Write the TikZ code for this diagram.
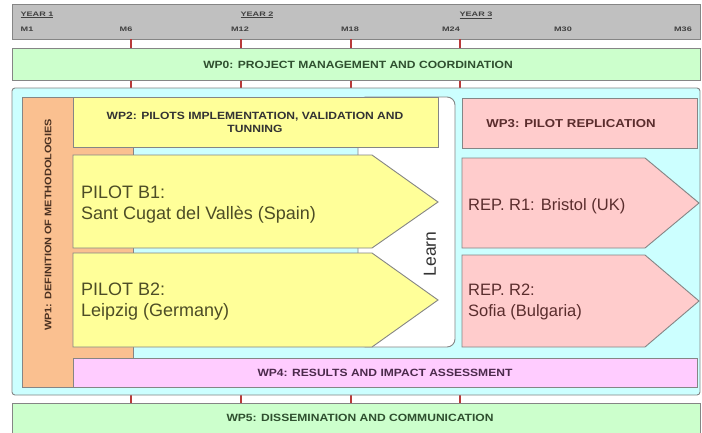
\documentclass[tikz,border=0pt]{standalone}
\usepackage{fontspec}
\setmainfont{Liberation Sans}
\newfontfamily\hdfont[FakeStretch=1.15]{Liberation Sans}
\newfontfamily\tinyfont[FakeStretch=1.4]{Liberation Sans}
\definecolor{barGray}{HTML}{C0C0C0}
\definecolor{edgeGray}{HTML}{858585}
\definecolor{wpGreen}{HTML}{CCFFCC}
\definecolor{wpCyan}{HTML}{CCFFFF}
\definecolor{wpOrange}{HTML}{FAC090}
\definecolor{wpYellow}{HTML}{FFFF99}
\definecolor{wpPink}{HTML}{FFCCCC}
\definecolor{wpMagenta}{HTML}{FFCCFF}
\definecolor{tickRed}{HTML}{B83A3A}
\definecolor{txGreen}{HTML}{2F4F2F}
\definecolor{txDark}{HTML}{333333}
\definecolor{txRed}{HTML}{5A2D2D}
\definecolor{txPurple}{HTML}{4B2A4B}
\definecolor{txOlive}{HTML}{4D4D26}
\definecolor{txBrown}{HTML}{4A3020}
\begin{document}
\begin{tikzpicture}[x=1pt,y=-1pt,
  box/.style={draw=edgeGray, line width=0.9pt},
  tick/.style={draw=tickRed, line width=2pt},
  tinylbl/.style={font=\tinyfont\bfseries\fontsize{6.5}{7}\selectfont, text=black!75, inner sep=0pt},
  hd/.style={font=\hdfont\bfseries\fontsize{10.5}{13}\selectfont, inner sep=0pt, align=center},
  bigtxt/.style={font=\fontsize{18}{21}\selectfont, inner sep=0pt, align=left, anchor=west},
  reptxt/.style={font=\fontsize{16.5}{21}\selectfont, inner sep=0pt, align=left, anchor=west}]
\path[use as bounding box, fill=white] (0,0) rectangle (702,432);

% timeline bar
\draw[box, fill=barGray] (12,4) rectangle (700,39);
\node[tinylbl] (y1) at (37,15) {\underline{YEAR 1}};
\node[tinylbl] (y2) at (257,15) {\underline{YEAR 2}};
\node[tinylbl] (y3) at (476,15) {\underline{YEAR 3}};
\node[tinylbl] (m1) at (27,29) {M1};
\node[tinylbl] (m6) at (126,29) {M6};
\node[tinylbl] (m12) at (240,29) {M12};
\node[tinylbl] (m18) at (350,29) {M18};
\node[tinylbl] (m24) at (451,29) {M24};
\node[tinylbl] (m30) at (563,29) {M30};
\node[tinylbl] (m36) at (683,29) {M36};

% ticks
\foreach \tx in {131,241,351,460}{
  \draw[tick] (\tx,39) -- (\tx,48);
  \draw[tick] (\tx,80) -- (\tx,88);
  \draw[tick] (\tx,395) -- (\tx,403);
}

% WP0
\draw[box, fill=wpGreen] (12,48) rectangle (700,80);
\node[hd, text=txGreen] (wp0) at (358,65) {WP0: PROJECT MANAGEMENT AND COORDINATION};

% container
\draw[box, fill=wpCyan, rounded corners=3pt] (12,88) rectangle (700,395);

% WP1
\draw[box, fill=wpOrange] (22,97) rectangle (133,387);
\node[hd, text=txBrown, rotate=90, font=\hdfont\bfseries\fontsize{9.5}{11}\selectfont] (wp1) at (48,225) {WP1: DEFINITION OF METHODOLOGIES};

% Learn box
\draw[box, fill=white, rounded corners=8pt] (358,97) rectangle (455,347);
\node[font=\fontsize{17.5}{21}\selectfont, text=txDark, rotate=90, inner sep=0pt] (learn) at (430,254) {Learn};

% WP2
\draw[box, fill=wpYellow] (73,97) rectangle (438,147);
\node[hd, text=txDark] (wp2) at (255,122) {WP2: PILOTS IMPLEMENTATION, VALIDATION AND\\TUNNING};

% Pilots
\draw[box, fill=wpYellow] (73,155) -- (372,155) -- (438,202) -- (372,248) -- (73,248) -- cycle;
\node[bigtxt, text=txOlive] (b1) at (81,205) {PILOT B1:\\Sant Cugat del Vallès (Spain)};
\draw[box, fill=wpYellow] (73,253) -- (372,253) -- (438,300) -- (372,347) -- (73,347) -- cycle;
\node[bigtxt, text=txOlive] (b2) at (81,302) {PILOT B2:\\Leipzig (Germany)};

% WP3
\draw[box, fill=wpPink] (462,98) rectangle (697,148);
\node[hd, text=txRed, font=\hdfont\bfseries\fontsize{11.5}{13}\selectfont] (wp3) at (571,124) {WP3: PILOT REPLICATION};

% Replications
\draw[box, fill=wpPink] (462,158) -- (645,158) -- (699,203) -- (645,248) -- (462,248) -- cycle;
\node[reptxt, text=txRed] (r1) at (468,206) {REP. R1: Bristol (UK)};
\draw[box, fill=wpPink] (462,255) -- (645,255) -- (699,301) -- (645,347) -- (462,347) -- cycle;
\node[reptxt, text=txRed] (r2) at (468,302) {REP. R2:\\Sofia (Bulgaria)};

% WP4
\draw[box, fill=wpMagenta] (73,358) rectangle (697,387);
\node[hd, text=txPurple] (wp4) at (385,373) {WP4: RESULTS AND IMPACT ASSESSMENT};

% WP5
\draw[box, fill=wpGreen] (12,403) rectangle (700,434);
\node[hd, text=txGreen] (wp5) at (360,418) {WP5: DISSEMINATION AND COMMUNICATION};
\end{tikzpicture}
\end{document}
